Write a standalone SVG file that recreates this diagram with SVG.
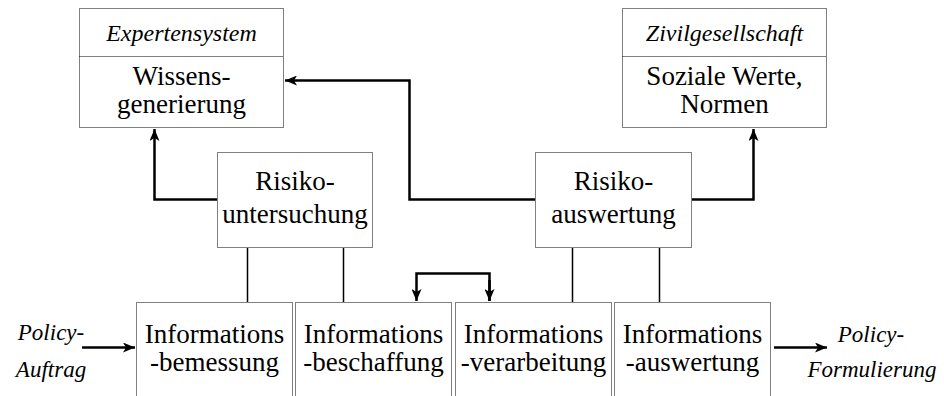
<svg xmlns="http://www.w3.org/2000/svg" width="944" height="396" viewBox="0 0 944 396">
<style>
.box{fill:#fff;stroke:#000;stroke-width:1;stroke-dasharray:1 1}
text{font-family:'Liberation Serif','Times New Roman',serif;fill:#000;text-anchor:middle}
.t{font-size:27px}
.i{font-size:23px;font-style:italic}
.thick{fill:none;stroke:#000;stroke-width:2.5}
.thin{fill:none;stroke:#000;stroke-width:1.5}
</style>
<defs>
<marker id="ah" viewBox="0 0 12 10" refX="12" refY="5" markerWidth="12" markerHeight="10" orient="auto" markerUnits="userSpaceOnUse">
<path d="M0,0 L12,5 L0,10 L3,5 z" fill="#000"/>
</marker>
</defs>
<rect width="944" height="396" fill="#fff"/>
<g id="connectors">
<path class="thick" d="M217,199.5 H154.5 V129" marker-end="url(#ah)"/>
<path class="thick" d="M535,199.5 H409.5 V80.5 H285" marker-end="url(#ah)"/>
<path class="thick" d="M692,199.5 H753.5 V129" marker-end="url(#ah)"/>
<path class="thick" d="M489.5,301 V273.5 H416.5 V301" marker-end="url(#ah)"/>
<path class="thick" d="M489.5,280 V301" marker-end="url(#ah)"/>
<path class="thin" d="M247.5,248 V302 M343.5,248 V302 M572.5,248 V302 M659.5,248 V302"/>
<path class="thick" d="M82,347.5 H135" marker-end="url(#ah)"/>
<path class="thick" d="M774,347.5 H827" marker-end="url(#ah)"/>
</g>
<g id="expertensystem">
<rect class="box" x="79.5" y="8.5" width="204" height="119"/>
<line class="box" x1="79.5" y1="56.5" x2="283.5" y2="56.5"/>
<text class="i" x="181.5" y="41" style="font-size:24px">Expertensystem</text>
<text class="t" x="181.5" y="85">Wissens-</text>
<text class="t" x="181.5" y="113">generierung</text>
</g>
<g id="zivilgesellschaft">
<rect class="box" x="622.5" y="8.5" width="204" height="119"/>
<line class="box" x1="622.5" y1="56.5" x2="826.5" y2="56.5"/>
<text class="i" x="724.5" y="41" style="font-size:24px">Zivilgesellschaft</text>
<text class="t" x="724.5" y="85">Soziale Werte,</text>
<text class="t" x="724.5" y="113">Normen</text>
</g>
<g id="risikountersuchung">
<rect class="box" x="217.5" y="152.5" width="155" height="95"/>
<text class="t" x="295" y="190">Risiko-</text>
<text class="t" x="295" y="223">untersuchung</text>
</g>
<g id="risikoauswertung">
<rect class="box" x="535.5" y="152.5" width="156" height="95"/>
<text class="t" x="613.5" y="190">Risiko-</text>
<text class="t" x="613.5" y="223">auswertung</text>
</g>
<g id="bemessung">
<rect class="box" x="136.5" y="302.5" width="156" height="100"/>
<text class="t" x="214.5" y="343">Informations</text>
<text class="t" x="214.5" y="371">-bemessung</text>
</g>
<g id="beschaffung">
<rect class="box" x="295.5" y="302.5" width="156" height="100"/>
<text class="t" x="373.5" y="343">Informations</text>
<text class="t" x="373.5" y="371">-beschaffung</text>
</g>
<g id="verarbeitung">
<rect class="box" x="455.5" y="302.5" width="156" height="100"/>
<text class="t" x="533.5" y="343">Informations</text>
<text class="t" x="533.5" y="371">-verarbeitung</text>
</g>
<g id="auswertung">
<rect class="box" x="614.5" y="302.5" width="156" height="100"/>
<text class="t" x="692.5" y="343">Informations</text>
<text class="t" x="692.5" y="371">-auswertung</text>
</g>
<g id="policy-auftrag">
<text class="i" x="51" y="340">Policy-</text>
<text class="i" x="51" y="377">Auftrag</text>
</g>
<g id="policy-formulierung">
<text class="i" x="871" y="342">Policy-</text>
<text class="i" x="872" y="377">Formulierung</text>
</g>
</svg>
